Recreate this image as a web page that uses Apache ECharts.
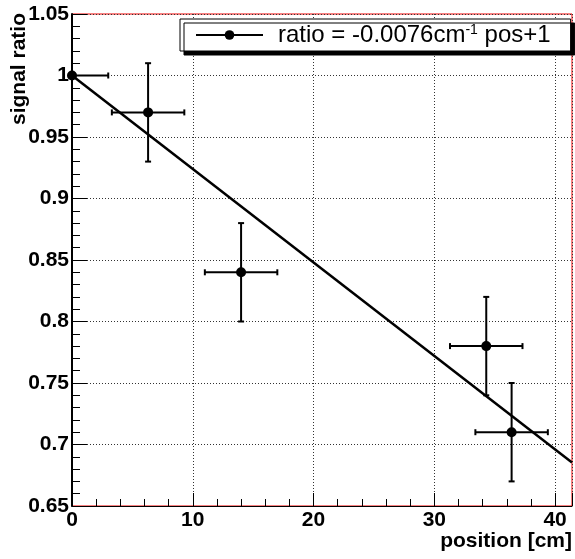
<!DOCTYPE html>
<html><head><meta charset="utf-8">
<script src="https://cdn.jsdelivr.net/npm/echarts@6/dist/echarts.min.js"></script>
<style>html,body{margin:0;padding:0;background:#fff}#c{width:575px;height:559px}</style>
</head><body><div id="c"></div>
<script>
// ---- data ----
const xPos   = [0, 6.3, 14.0, 34.3, 36.4];
const yRatio = [1.0, 0.97, 0.84, 0.78, 0.71];
const xErr   = [3, 3, 3, 3, 3];
const yErr   = [0, 0.04, 0.04, 0.04, 0.04];
const fitSlope = -0.0076;
const fitIntercept = 1;
const xRange = [0, 41.4];
const yRange = [0.65, 1.05];
const legendName = 'ratio = -0.0076cm-1 pos+1';
const xTitle = 'position [cm]';
const yTitle = 'signal ratio';

const FONT = '"Liberation Sans", Arial, Helvetica, sans-serif';
const fitLine = xRange.map(x => [x, fitSlope * x + fitIntercept]);
const pts = xPos.map((x, i) => [x, yRatio[i]]);
const errData = xPos.map((x, i) => [x, yRatio[i], xErr[i], yErr[i]]);

const chart = echarts.init(document.getElementById('c'), null, {renderer: 'canvas'});

function renderErr(params, api) {
  const x = api.value(0), y = api.value(1), ex = api.value(2), ey = api.value(3);
  const c = api.coord([x, y]);
  const l = api.coord([x - ex, y]);
  const r = api.coord([x + ex, y]);
  const st = {stroke: '#000', lineWidth: 2};
  const cap = 3;
  const ch = [
    {type: 'line', shape: {x1: l[0], y1: c[1], x2: r[0], y2: c[1]}, style: st},
    {type: 'line', shape: {x1: l[0], y1: c[1] - cap, x2: l[0], y2: c[1] + cap}, style: st},
    {type: 'line', shape: {x1: r[0], y1: c[1] - cap, x2: r[0], y2: c[1] + cap}, style: st}
  ];
  if (ey > 0) {
    const t = api.coord([x, y + ey]);
    const b = api.coord([x, y - ey]);
    ch.push({type: 'line', shape: {x1: c[0], y1: t[1], x2: c[0], y2: b[1]}, style: st});
    ch.push({type: 'line', shape: {x1: c[0] - cap, y1: t[1], x2: c[0] + cap, y2: t[1]}, style: st});
    ch.push({type: 'line', shape: {x1: c[0] - cap, y1: b[1], x2: c[0] + cap, y2: b[1]}, style: st});
  }
  return {type: 'group', children: ch};
}

const option = {
  animation: false,
  backgroundColor: '#fff',
  grid: {left: 72, right: 3, top: 14, bottom: 53, show: true, borderColor: '#e00', borderWidth: 1, backgroundColor: 'transparent'},
  legend: {
    left: 180, top: 19,
    padding: [4, 20, 4, 15],
    itemWidth: 67, itemHeight: 12, itemGap: 0,
    backgroundColor: '#fff', borderColor: '#000', borderWidth: 1,
    shadowColor: '#000', shadowOffsetX: 4, shadowOffsetY: 4, shadowBlur: 0,
    data: [legendName],
    lineStyle: {color: '#000', width: 2, opacity: 1},
    itemStyle: {color: '#000', opacity: 1},
    formatter: () => '{a|ratio = -0.0076cm}{s|-1}{b| pos+1}',
    textStyle: {
      fontFamily: FONT, color: '#000',
      rich: {
        a: {fontSize: 24, fontFamily: FONT, color: '#000', padding: [0, 0, 0, 10], lineHeight: 24, verticalAlign: 'bottom'},
        s: {fontSize: 14, fontFamily: FONT, color: '#000', lineHeight: 24, verticalAlign: 'top', padding: [0, 0, 0, 0]},
        b: {fontSize: 24, fontFamily: FONT, color: '#000', lineHeight: 24, verticalAlign: 'bottom'}
      }
    }
  },
  xAxis: [{
    type: 'value', min: xRange[0], max: xRange[1], interval: 10,
    axisLine: {show: true, onZero: false, lineStyle: {color: '#000', width: 1}},
    axisTick: {show: true, inside: true, length: 13, lineStyle: {color: '#000', width: 1}},
    axisLabel: {margin: 4, fontSize: 21, fontWeight: 'bold', fontFamily: FONT, color: '#000',
      formatter: v => (Math.abs(v % 10) < 1e-9 ? String(v) : '')},
    splitLine: {show: true, lineStyle: {color: '#333', width: 1, type: [1, 2]}}
  }, {
    type: 'value', min: xRange[0], max: xRange[1], interval: 2, position: 'bottom', gridIndex: 0,
    axisLine: {show: false},
    axisTick: {show: true, inside: true, length: 7, lineStyle: {color: '#000', width: 1}},
    axisLabel: {show: false},
    splitLine: {show: false}
  }],
  yAxis: {
    type: 'value', min: yRange[0], max: yRange[1], interval: 0.05,
    axisLine: {show: true, onZero: false, lineStyle: {color: '#000', width: 2}},
    axisTick: {show: true, inside: true, length: 15, lineStyle: {color: '#000', width: 1}},
    minorTick: {show: true, splitNumber: 5, length: 8, lineStyle: {color: '#000', width: 1}},
    axisLabel: {margin: 3, fontSize: 21, fontWeight: 'bold', fontFamily: FONT, color: '#000'},
    splitLine: {show: true, lineStyle: {color: '#333', width: 1, type: [1, 2]}}
  },
  graphic: [
    {type: 'text', right: 3, top: 531, style: {text: xTitle, font: 'bold 21px ' + FONT, fill: '#000'}},
    {type: 'text', x: 19, y: 13, rotation: Math.PI / 2,
      style: {text: yTitle, font: 'bold 21px ' + FONT, fill: '#000', align: 'right', verticalAlign: 'middle'}}
  ],
  series: [
    {type: 'custom', renderItem: renderErr, data: errData, clip: true, silent: true, z: 3},
    {type: 'line', name: legendName, data: pts, symbol: 'circle', symbolSize: 10, showAllSymbol: true,
      itemStyle: {color: '#000'}, lineStyle: {opacity: 0, width: 0}, clip: false, z: 5, silent: true},
    {type: 'line', name: 'fit', data: fitLine, showSymbol: false, symbol: 'none',
      lineStyle: {color: '#000', width: 2.5}, clip: true, z: 4, silent: true}
  ]
};
chart.setOption(option);
</script></body></html>
